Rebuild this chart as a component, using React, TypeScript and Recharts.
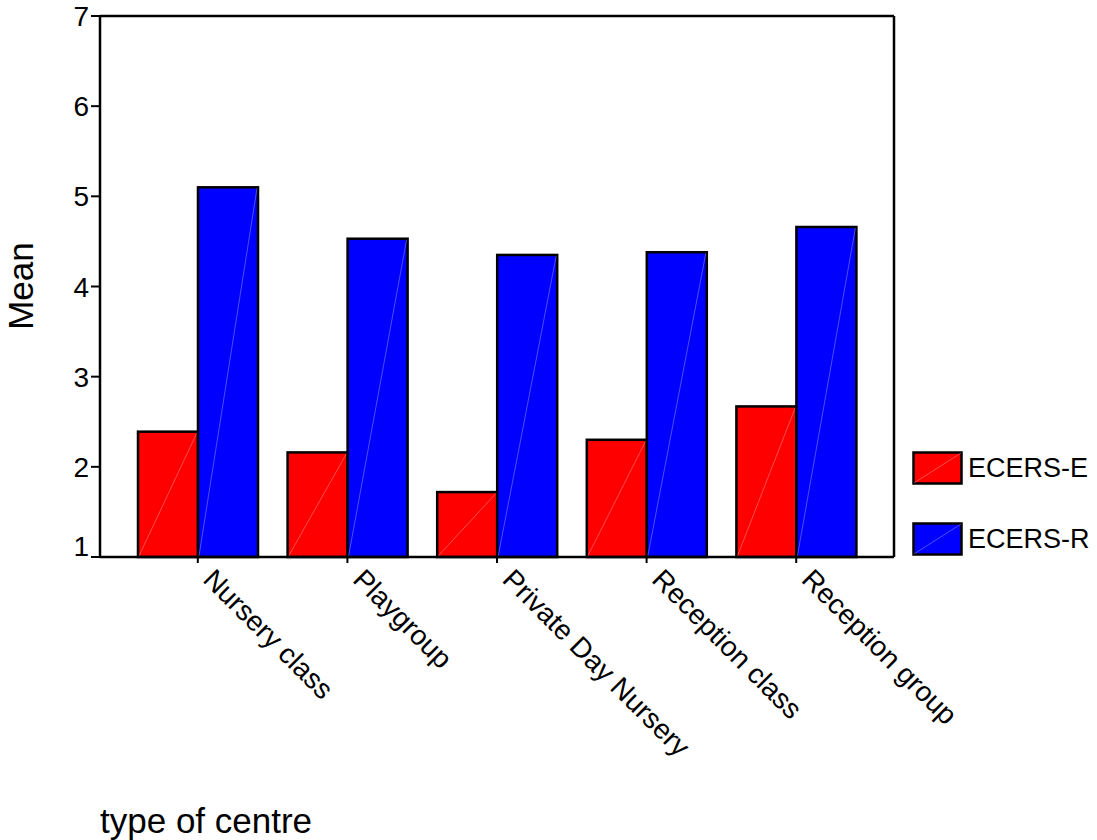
import React from "react";
import { BarChart, Bar, XAxis, YAxis, Legend } from "recharts";

const centreTypes = [
  "Nursery class",
  "Playgroup",
  "Private Day Nursery",
  "Reception class",
  "Reception group",
];
const ecersE = [2.39, 2.16, 1.72, 2.3, 2.67];
const ecersR = [5.1, 4.53, 4.35, 4.38, 4.66];
const meanTicks = [1, 2, 3, 4, 5, 6, 7];

const data = centreTypes.map((centre, i) => ({
  centre,
  ecersE: ecersE[i],
  ecersR: ecersR[i],
}));

const FONT = "'Liberation Sans', Arial, Helvetica, sans-serif";

// SPSS draws a faint diagonal across each filled box
const FilledBar = (props: any) => {
  const { x, y, width, height, fill } = props;
  if (!width || !height) return null;
  return (
    <g>
      <rect x={x} y={y} width={width} height={height} fill={fill} stroke="#000" strokeWidth={2.5} />
      <line
        x1={x + 1}
        y1={y + height - 1}
        x2={x + width - 1}
        y2={y + 1}
        stroke="#fff"
        strokeOpacity={0.3}
        strokeWidth={1}
      />
    </g>
  );
};

const CentreTick = (props: any) => {
  const { x, y, payload } = props;
  const bx = x + 4;
  const by = y + 16;
  return (
    <text
      x={bx}
      y={by}
      transform={`rotate(45 ${bx} ${by})`}
      textAnchor="start"
      fontSize={28}
      fontFamily={FONT}
      fill="#000"
    >
      {payload.value}
    </text>
  );
};

const MeanTick = (props: any) => {
  const { x, y, payload } = props;
  const shift = payload.value === 1 ? -11 : 0;
  return (
    <text
      x={x}
      y={y + shift + 10}
      textAnchor="end"
      fontSize={28}
      fontFamily={FONT}
      fill="#000"
    >
      {payload.value}
    </text>
  );
};

const renderLegend = (props: any) => {
  const { payload } = props;
  return (
    <svg width={184} height={110}>
      {(payload || []).map((entry: any, i: number) => (
        <g key={entry.value}>
          <rect x={1.5} y={1.5 + i * 71} width={48} height={31} fill={entry.color} stroke="#000" strokeWidth={2.5} />
          <line x1={2} y1={32 + i * 71} x2={49} y2={2 + i * 71} stroke="#fff" strokeOpacity={0.3} />
          <text x={56} y={26 + i * 71} fontSize={27} fontFamily={FONT} fill="#000">
            {entry.value}
          </text>
        </g>
      ))}
    </svg>
  );
};

export default function App() {
  return (
    <div style={{ position: "absolute", left: 0, top: 0, background: "#fff" }}>
      <BarChart
        width={1097}
        height={840}
        data={data}
        margin={{ top: 15, right: 18, bottom: 0, left: 0 }}
        barCategoryGap={15}
        barGap={0}
      >
        <XAxis
          dataKey="centre"
          interval={0}
          height={283}
          padding={{ left: 23, right: 23 }}
          axisLine={{ stroke: "#000", strokeWidth: 2.5 }}
          tickLine={{ stroke: "#000", strokeWidth: 2 }}
          tickSize={6}
          tick={<CentreTick />}
          label={() => (
            <text x={100} y={833} fontSize={35} fontFamily={FONT} fill="#000">
              type of centre
            </text>
          )}
        />
        <XAxis
          xAxisId="top"
          dataKey="centre"
          orientation="top"
          height={1}
          tick={false}
          tickLine={false}
          axisLine={{ stroke: "#000", strokeWidth: 2.5 }}
        />
        <YAxis
          type="number"
          domain={[1, 7]}
          ticks={meanTicks}
          width={100}
          tickSize={9}
          axisLine={{ stroke: "#000", strokeWidth: 2.5 }}
          tickLine={{ stroke: "#000", strokeWidth: 2 }}
          tick={<MeanTick />}
          label={() => (
            <text
              x={33}
              y={286}
              transform="rotate(-90 33 286)"
              textAnchor="middle"
              fontSize={35}
              fontFamily={FONT}
              fill="#000"
            >
              Mean
            </text>
          )}
        />
        <YAxis
          yAxisId="right"
          orientation="right"
          type="number"
          domain={[1, 7]}
          width={1}
          tick={false}
          tickLine={false}
          axisLine={{ stroke: "#000", strokeWidth: 2.5 }}
        />
        <Legend
          layout="horizontal"
          verticalAlign="middle"
          align="right"
          content={renderLegend}
          wrapperStyle={{ left: 912, top: 451, width: 184, height: 110 }}
        />
        <Bar dataKey="ecersE" name="ECERS-E" fill="#ff0000" shape={<FilledBar />} isAnimationActive={false} />
        <Bar dataKey="ecersR" name="ECERS-R" fill="#0000ff" shape={<FilledBar />} isAnimationActive={false} />
      </BarChart>
    </div>
  );
}
